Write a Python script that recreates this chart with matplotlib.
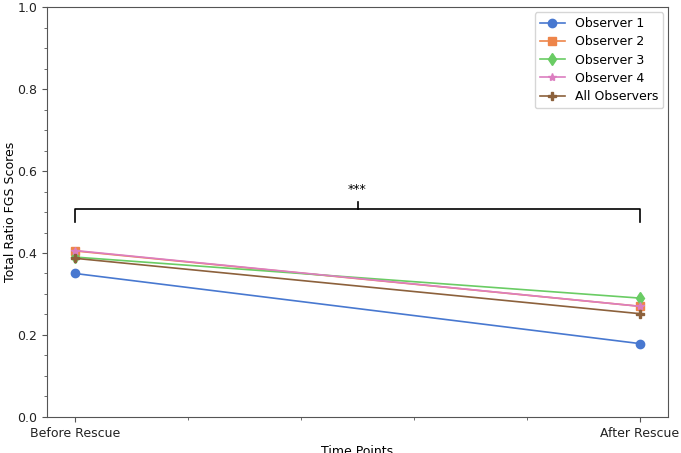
import matplotlib
matplotlib.use("Agg")
import matplotlib.pyplot as plt
from matplotlib.ticker import MultipleLocator

time_points = ["Before Rescue", "After Rescue"]
obs1 = [0.350, 0.179]
obs2 = [0.405, 0.270]
obs3 = [0.390, 0.290]
obs4 = [0.406, 0.270]
all_obs = [0.387, 0.252]

series = [
    ("Observer 1", obs1, "o", "#4878d0"),
    ("Observer 2", obs2, "s", "#ee854a"),
    ("Observer 3", obs3, "d", "#6acc64"),
    ("Observer 4", obs4, "*", "#dc7ec0"),
    ("All Observers", all_obs, "P", "#8c613c"),
]

fig = plt.figure(figsize=(6.81, 4.53), dpi=100)
ax = fig.add_axes([0.069, 0.0795, 0.912, 0.905])

x = list(range(len(time_points)))
for name, vals, mk, col in series:
    ax.plot(x, vals, marker=mk, color=col, label=name, linewidth=1.2, markersize=6)

# significance bracket
y_br, h = 0.508, 0.033
ax.plot([0, 0, 1, 1], [y_br - h, y_br, y_br, y_br - h], color="black", linewidth=1.2)
ax.plot([0.5, 0.5], [y_br, y_br + 0.017], color="black", linewidth=1.2)
ax.text(0.5, y_br + 0.03, "***", ha="center", va="bottom", fontsize=9)

ax.set_xlim(-0.05, 1.05)
ax.set_ylim(0, 1.0)
ax.set_xticks(x)
ax.set_xticklabels(time_points, fontsize=9)
ax.xaxis.set_minor_locator(MultipleLocator(0.2))
ax.yaxis.set_major_locator(MultipleLocator(0.2))
ax.yaxis.set_minor_locator(MultipleLocator(0.05))
ax.tick_params(axis="both", which="both", colors="#555555", labelcolor="#222222")
ax.tick_params(axis="y", labelsize=9)
ax.set_xlabel("Time Points", fontsize=9)
ax.set_ylabel("Total Ratio FGS Scores", fontsize=9, labelpad=0.5)
for s in ax.spines.values():
    s.set_color("#555555")
ax.legend(loc="upper right", fontsize=9, labelspacing=0.42, borderaxespad=0.4)

fig.savefig("out.png", dpi=100)
